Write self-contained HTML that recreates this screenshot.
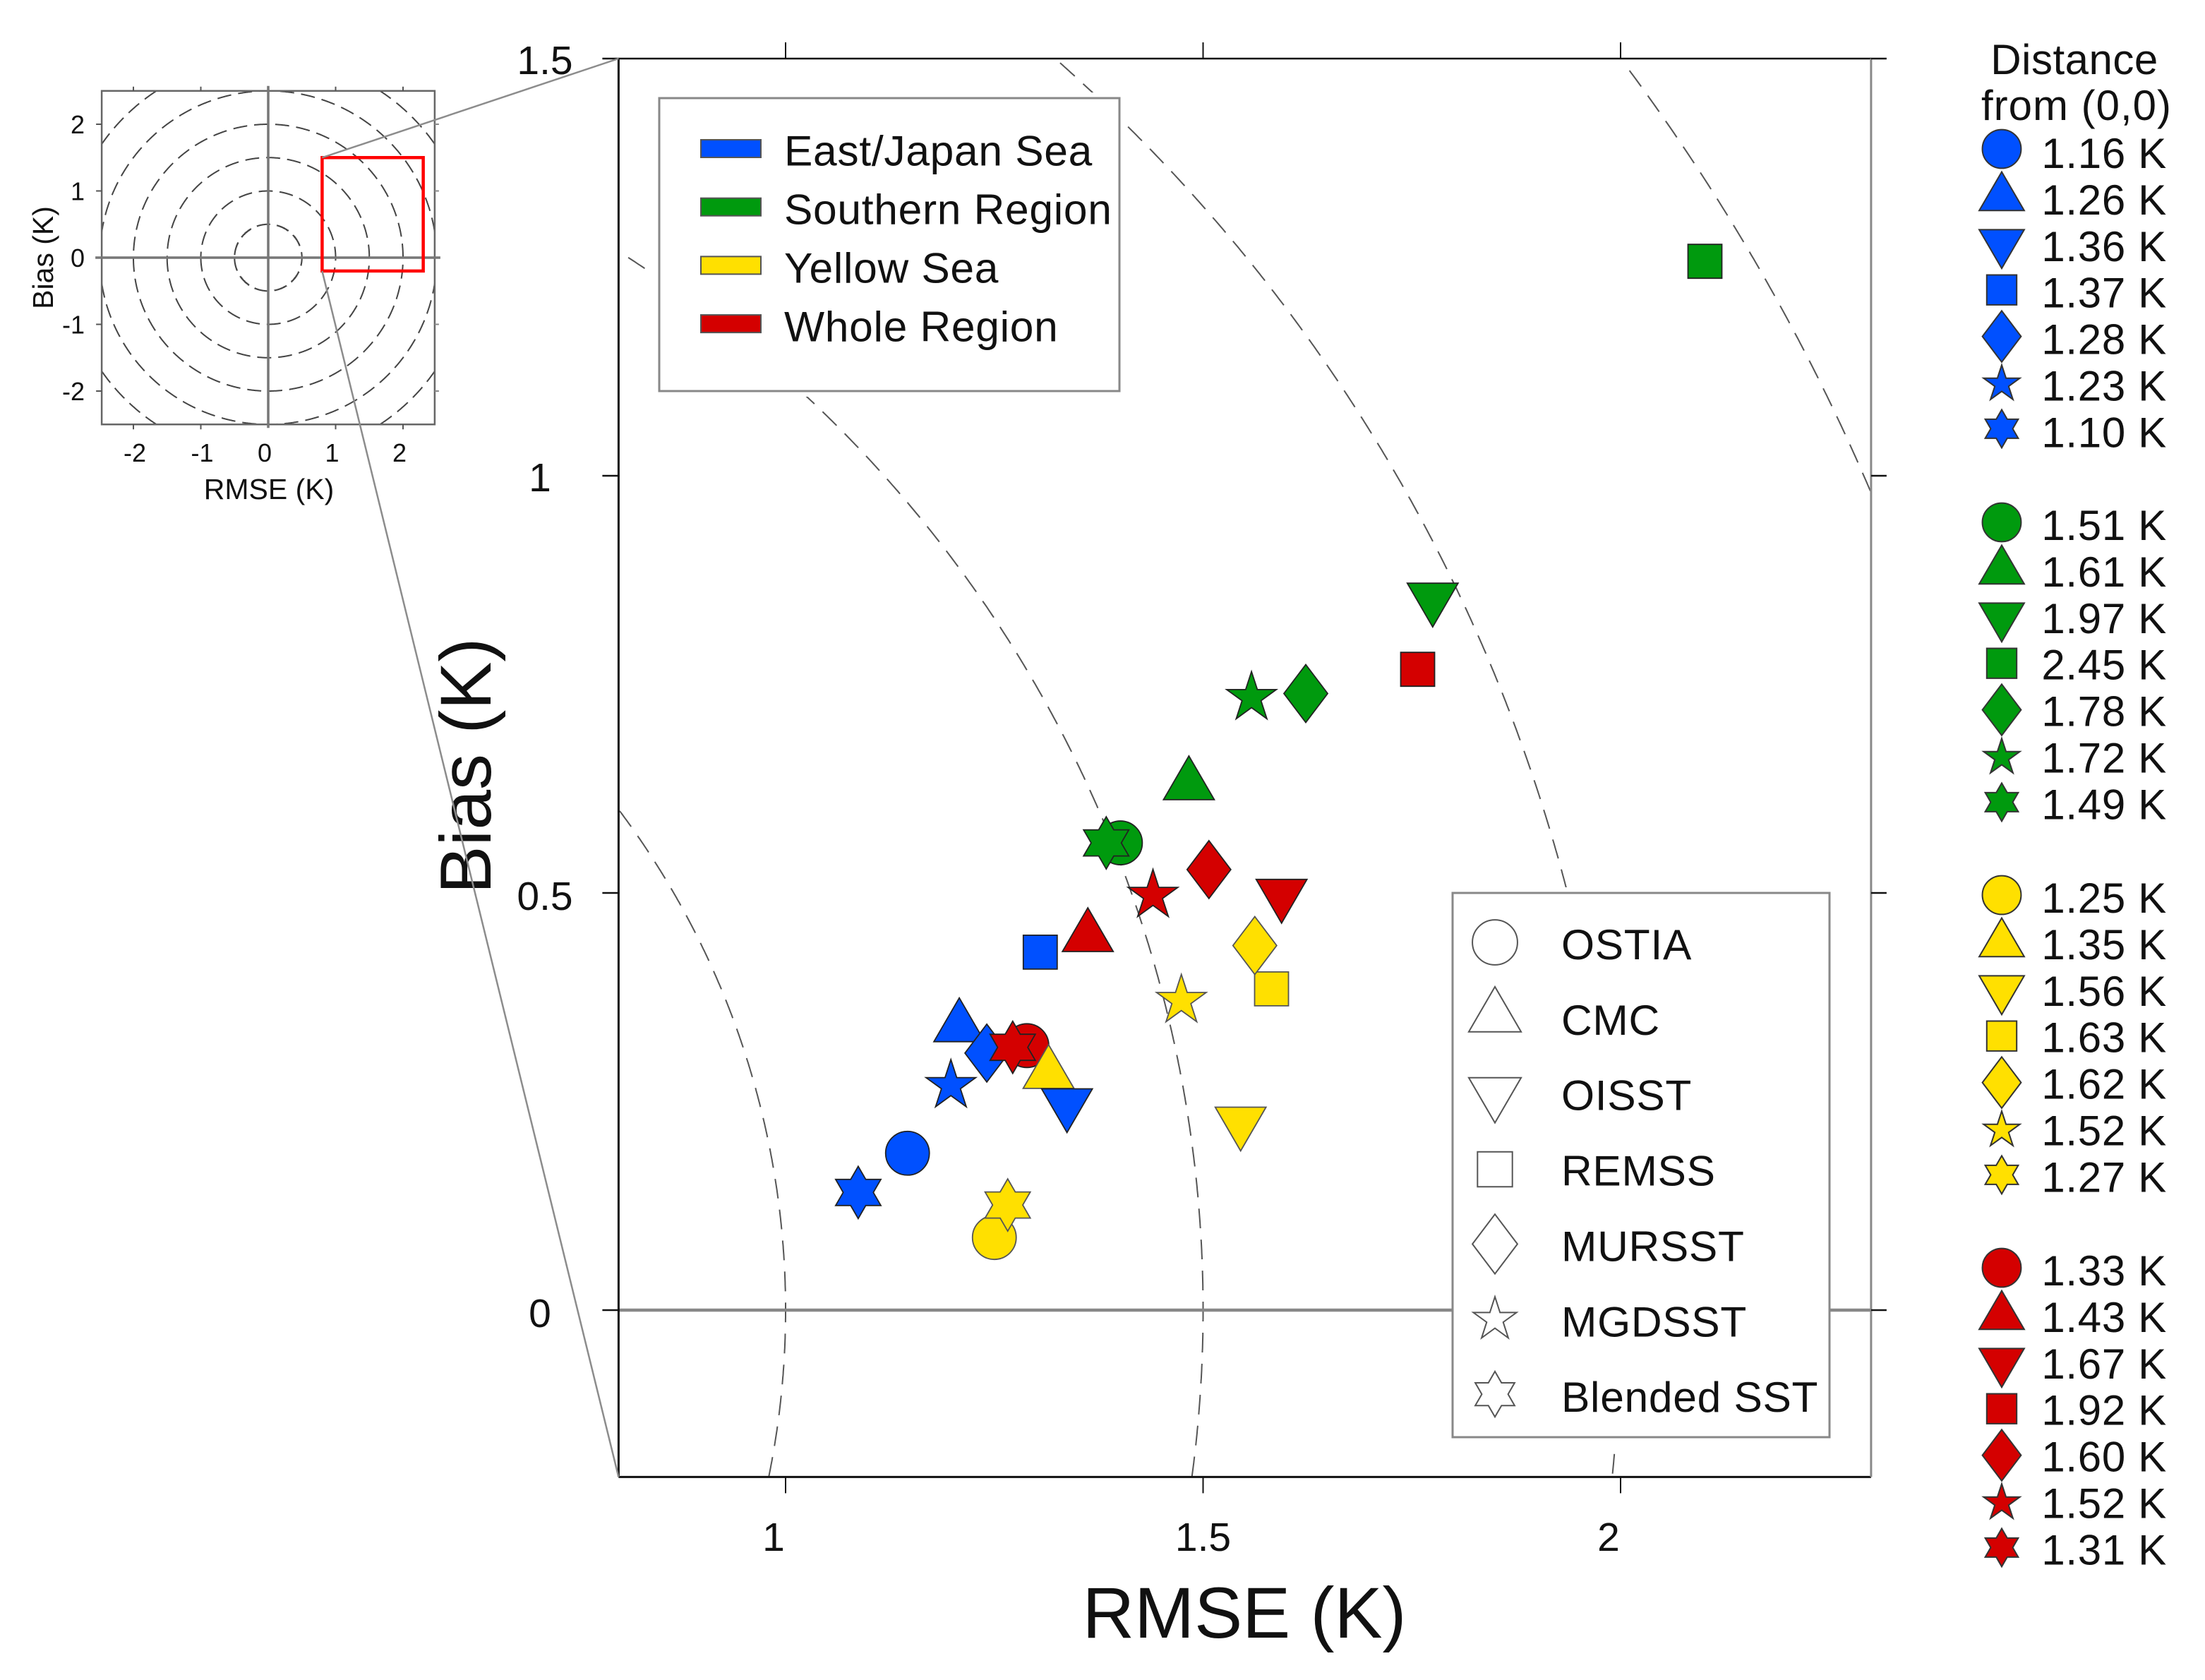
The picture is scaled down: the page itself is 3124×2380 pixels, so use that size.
<!DOCTYPE html>
<html lang="en">
<head>
<meta charset="utf-8">
<title>RMSE and Bias of SST products</title>
<style>
  html, body { margin: 0; padding: 0; background: #fff; width: 3124px; height: 2380px; overflow: hidden; }
  svg { display: block; overflow: hidden; }
  text { font-family: "Liberation Sans", Arial, sans-serif; fill: #111; }
</style>
</head>
<body>
<svg id="chart" xmlns="http://www.w3.org/2000/svg" width="3124" height="2380" viewBox="0 0 3124 2380">
  <rect x="0" y="0" width="3124" height="2380" fill="#fff"/>

  <g id="inset"></g>
  <g id="main"></g>

  <g id="region-legend">
    <rect x="926" y="131" width="668" height="431" fill="#fff"/>
    <rect x="934" y="139" width="652" height="415" fill="#fff" stroke="#888" stroke-width="3"/>
  </g>
  <g id="product-legend">
    <rect x="2058" y="1265" width="534" height="771" fill="#fff" stroke="#888" stroke-width="3"/>
  </g>
  <g id="markers"></g>
  <g id="distance-legend">
    <text x="2939" y="105" font-size="60" text-anchor="middle" letter-spacing="0.5">Distance</text>
    <text x="2942" y="170" font-size="60" text-anchor="middle" letter-spacing="1">from (0,0)</text>
  </g>

  <text x="1763" y="2320" font-size="102" text-anchor="middle">RMSE (K)</text>
  <text transform="translate(695 1085) rotate(-90)" font-size="102" text-anchor="middle">Bias (K)</text>
  <text x="381" y="707" font-size="41" text-anchor="middle">RMSE (K)</text>
  <text transform="translate(75 365) rotate(-90)" font-size="41" text-anchor="middle">Bias (K)</text>
  <g id="connectors"></g>
</svg>

<script>
// ---- Data ----
const products = ['OSTIA', 'CMC', 'OISST', 'REMSS', 'MURSST', 'MGDSST', 'Blended SST'];
const regions = ['East/Japan Sea', 'Southern Region', 'Yellow Sea', 'Whole Region'];

const eastJapanRmse = [1.146, 1.208, 1.337, 1.305, 1.241, 1.198, 1.087];
const eastJapanBias = [0.188, 0.348, 0.239, 0.429, 0.308, 0.272, 0.141];
const southernRmse = [1.401, 1.483, 1.775, 2.101, 1.623, 1.558, 1.384];
const southernBias = [0.560, 0.638, 0.845, 1.257, 0.739, 0.737, 0.560];
const yellowRmse = [1.250, 1.315, 1.545, 1.582, 1.562, 1.474, 1.266];
const yellowBias = [0.087, 0.292, 0.217, 0.385, 0.437, 0.374, 0.126];
const wholeRmse = [1.289, 1.362, 1.594, 1.757, 1.507, 1.440, 1.272];
const wholeBias = [0.317, 0.456, 0.490, 0.768, 0.528, 0.500, 0.315];

const eastJapanDistance = ['1.16 K', '1.26 K', '1.36 K', '1.37 K', '1.28 K', '1.23 K', '1.10 K'];
const southernDistance = ['1.51 K', '1.61 K', '1.97 K', '2.45 K', '1.78 K', '1.72 K', '1.49 K'];
const yellowDistance = ['1.25 K', '1.35 K', '1.56 K', '1.63 K', '1.62 K', '1.52 K', '1.27 K'];
const wholeDistance = ['1.33 K', '1.43 K', '1.67 K', '1.92 K', '1.60 K', '1.52 K', '1.31 K'];

const mainXTicks = [1, 1.5, 2];
const mainYTicks = [0, 0.5, 1, 1.5];
const mainRadii = [1, 1.5, 2, 2.5];
const insetTicks = [-2, -1, 0, 1, 2];
const insetRadii = [0.5, 1, 1.5, 2, 2.5, 3];

// ---- Setup ----
const NS = 'http://www.w3.org/2000/svg';
const regionColors = ['#0050ff', '#009a0e', '#ffe000', '#d40000'];
const regionKeys = ['east-japan', 'southern', 'yellow', 'whole'];
const regionRmse = [eastJapanRmse, southernRmse, yellowRmse, wholeRmse];
const regionBias = [eastJapanBias, southernBias, yellowBias, wholeBias];
const regionDistance = [eastJapanDistance, southernDistance, yellowDistance, wholeDistance];
const productShapes = ['circle', 'triUp', 'triDown', 'square', 'diamond', 'star5', 'star6'];

function x(v) { return 1113 + (v - 1) * 1183; }
function y(v) { return 1856 - v * 1182; }
function ix(v) { return 380 + v * 95.5; }
function iy(v) { return 365 - v * 94.5; }

const xMin = 0.8, xMax = 2.3, yMin = -0.2, yMax = 1.5;
const ixLim = 2.47, iyLim = 2.5;

function mk(tag, attrs, parent) {
  const e = document.createElementNS(NS, tag);
  for (const k in attrs) e.setAttribute(k, attrs[k]);
  parent.appendChild(e);
  return e;
}

function shapePoints(shape, cx, cy, s) {
  const pts = [];
  if (shape === 'triUp') {
    pts.push([cx, cy - 31 * s], [cx + 36 * s, cy + 31 * s], [cx - 36 * s, cy + 31 * s]);
  } else if (shape === 'triDown') {
    pts.push([cx - 36 * s, cy - 31 * s], [cx + 36 * s, cy - 31 * s], [cx, cy + 31 * s]);
  } else if (shape === 'square') {
    pts.push([cx - 24 * s, cy - 24 * s], [cx + 24 * s, cy - 24 * s], [cx + 24 * s, cy + 24 * s], [cx - 24 * s, cy + 24 * s]);
  } else if (shape === 'diamond') {
    pts.push([cx, cy - 41 * s], [cx + 31 * s, cy], [cx, cy + 41 * s], [cx - 31 * s, cy]);
  } else if (shape === 'star5') {
    const R = 37 * s, r = R * 0.382, dy = R * 0.095;
    for (let i = 0; i < 10; i++) {
      const a = -Math.PI / 2 + i * Math.PI / 5, q = i % 2 ? r : R;
      pts.push([cx + q * Math.cos(a), cy + dy + q * Math.sin(a)]);
    }
  } else if (shape === 'star6') {
    const R = 37 * s, r = R / Math.sqrt(3);
    for (let i = 0; i < 12; i++) {
      const a = -Math.PI / 2 + i * Math.PI / 6, q = i % 2 ? r : R;
      pts.push([cx + q * Math.cos(a), cy + q * Math.sin(a)]);
    }
  }
  return pts.map(p => p[0].toFixed(1) + ',' + p[1].toFixed(1)).join(' ');
}

function drawShape(shape, cx, cy, s, fill, stroke, sw, parent) {
  if (shape === 'circle') {
    return mk('circle', { cx: cx, cy: cy, r: 31 * s, fill: fill, stroke: stroke, 'stroke-width': sw }, parent);
  }
  return mk('polygon', { points: shapePoints(shape, cx, cy, s), fill: fill, stroke: stroke, 'stroke-width': sw, 'stroke-linejoin': 'miter' }, parent);
}

// Pieces of the circle of radius r that lie inside the given data window
function arcSegments(r, fx, fy, xlo, xhi, ylo, yhi) {
  const segs = [];
  let cur = null;
  for (let i = 0; i <= 2880; i++) {
    const a = -Math.PI + i / 2880 * 2 * Math.PI;
    const dx = r * Math.cos(a), dy = r * Math.sin(a);
    if (dx >= xlo && dx <= xhi && dy >= ylo && dy <= yhi) {
      if (!cur) { cur = []; segs.push(cur); }
      cur.push(fx(dx).toFixed(1) + ',' + fy(dy).toFixed(1));
    } else {
      cur = null;
    }
  }
  return segs.map(s => s.join(' '));
}

// ---- Inset ----
const inset = document.getElementById('inset');
insetRadii.forEach(function (r) {
  arcSegments(r, ix, iy, -ixLim, ixLim, -iyLim, iyLim).forEach(function (pts) {
    const arc = mk('polyline', { points: pts, fill: 'none', stroke: '#444', 'stroke-width': 2, 'stroke-dasharray': '20 10' }, inset);
    
    
  });
});
const insetBox = mk('rect', { x: ix(-ixLim), y: iy(iyLim), width: ix(ixLim) - ix(-ixLim), height: iy(-iyLim) - iy(iyLim), fill: 'none', stroke: '#666', 'stroke-width': 2.5 }, inset);


const insetZeroH = mk('line', { x1: ix(-ixLim) - 9, x2: ix(ixLim) + 8, y1: iy(0), y2: iy(0), stroke: '#777', 'stroke-width': 3.5 }, inset);


const insetZeroV = mk('line', { x1: ix(0), x2: ix(0), y1: iy(iyLim) - 7, y2: iy(-iyLim) + 5, stroke: '#777', 'stroke-width': 3.5 }, inset);


insetTicks.forEach(function (v) {
  if (v !== 0) {
    const t1 = mk('line', { x1: ix(v), x2: ix(v), y1: iy(iyLim), y2: iy(iyLim) - 6, stroke: '#555', 'stroke-width': 2 }, inset);
    
    
    const t2 = mk('line', { x1: ix(v), x2: ix(v), y1: iy(-iyLim), y2: iy(-iyLim) + 7, stroke: '#555', 'stroke-width': 2 }, inset);
    
    
    const t3 = mk('line', { x1: ix(-ixLim) - 8, x2: ix(-ixLim), y1: iy(v), y2: iy(v), stroke: '#555', 'stroke-width': 2 }, inset);
    
    
    const t4 = mk('line', { x1: ix(ixLim), x2: ix(ixLim) + 6, y1: iy(v), y2: iy(v), stroke: '#888', 'stroke-width': 2 }, inset);
    
    
  }
  const lx = mk('text', { x: ix(v) + (v < 0 ? 2 : -5), y: 654, 'font-size': 36, 'text-anchor': 'middle' }, inset);
  lx.textContent = String(v);
  
  
  const ly = mk('text', { x: 120, y: iy(v) + 13, 'font-size': 36, 'text-anchor': 'end' }, inset);
  ly.textContent = String(v);
  
  
});
const zoomRect = mk('rect', { x: ix(xMin), y: iy(yMax), width: ix(xMax) - ix(xMin), height: iy(yMin) - iy(yMax), fill: 'none', stroke: '#f00', 'stroke-width': 4.5 }, inset);



// ---- Main plot ----
const main = document.getElementById('main');
mainRadii.forEach(function (r) {
  arcSegments(r, x, y, xMin, xMax, yMin, yMax).forEach(function (pts) {
    const arc = mk('polyline', { points: pts, fill: 'none', stroke: '#555', 'stroke-width': 2, 'stroke-dasharray': '28 16' }, main);
    
    
  });
});
// White halo under the product legend, below the zero line
const productHalo = mk('rect', { x: 2050, y: 1257, width: 550, height: 787, fill: '#fff' }, main);


const zeroLine = mk('line', { x1: x(xMin), x2: x(xMax), y1: y(0), y2: y(0), stroke: '#888', 'stroke-width': 4.5 }, main);



const axisTop = mk('line', { x1: x(xMin), x2: x(xMax), y1: y(yMax), y2: y(yMax), stroke: '#111', 'stroke-width': 2.5 }, main);


const axisBottom = mk('line', { x1: x(xMin), x2: x(xMax), y1: y(yMin), y2: y(yMin), stroke: '#111', 'stroke-width': 3 }, main);


const axisLeft = mk('line', { x1: x(xMin), x2: x(xMin), y1: y(yMax), y2: y(yMin), stroke: '#111', 'stroke-width': 3 }, main);


const axisRight = mk('line', { x1: x(xMax), x2: x(xMax), y1: y(yMax), y2: y(yMin), stroke: '#888', 'stroke-width': 3 }, main);



mainXTicks.forEach(function (v) {
  const t1 = mk('line', { x1: x(v), x2: x(v), y1: y(yMax), y2: y(yMax) - 23, stroke: '#111', 'stroke-width': 2 }, main);
  
  
  const t2 = mk('line', { x1: x(v), x2: x(v), y1: y(yMin), y2: y(yMin) + 23, stroke: '#111', 'stroke-width': 2 }, main);
  
  
  const lab = mk('text', { x: x(v) + (Number.isInteger(v) ? -17 : 0), y: 2197, 'font-size': 57, 'text-anchor': 'middle' }, main);
  lab.textContent = String(v);
  
  
});
mainYTicks.forEach(function (v) {
  const t1 = mk('line', { x1: x(xMin) - 23, x2: x(xMin), y1: y(v), y2: y(v), stroke: '#111', 'stroke-width': 2.5 }, main);
  
  
  const t2 = mk('line', { x1: x(xMax), x2: x(xMax) + 22, y1: y(v), y2: y(v), stroke: '#111', 'stroke-width': 2.5 }, main);
  
  
  const lab = mk('text', { x: Number.isInteger(v) ? 765 : 772, y: y(v) + (v >= 1 ? 22 : 24), 'font-size': 57, 'text-anchor': 'middle' }, main);
  lab.textContent = String(v);
  
  
});

// ---- Region legend ----
const regionLegend = document.getElementById('region-legend');
regions.forEach(function (name, i) {
  const top = 198 + i * 82.7;
  const sw = mk('rect', { x: 993, y: top, width: 85, height: 25, fill: regionColors[i], stroke: '#555', 'stroke-width': 2 }, regionLegend);
  
  
  const t = mk('text', { x: 1111, y: 234.5 + i * 83, 'font-size': 60.5, 'letter-spacing': 0.7 }, regionLegend);
  t.textContent = name;
  
  
});

// ---- Product legend ----
const productLegend = document.getElementById('product-legend');
const productOffsets = { circle: -24, triUp: -36, triDown: -14, square: -23, diamond: -24, star5: -27, star6: -25 };
products.forEach(function (name, i) {
  const base = 1359 + i * 106.85;
  const shape = productShapes[i];
  const s = (shape === 'star5' || shape === 'star6') ? 0.87 : 1.03;
  const m = drawShape(shape, 2118, base + productOffsets[shape], s, 'none', '#555', 2, productLegend);
  
  
  const t = mk('text', { x: 2212, y: base, 'font-size': 60.5, 'letter-spacing': 0.7 }, productLegend);
  t.textContent = name;
  
  
});

// ---- Scatter markers: one pass per product, regions in legend order ----
const markersGroup = document.getElementById('markers');
products.forEach(function (name, p) {
  regions.forEach(function (region, r) {
    const stroke = r === 2 ? '#555' : '#222';
    const m = drawShape(productShapes[p], x(regionRmse[r][p]), y(regionBias[r][p]), 1, regionColors[r], stroke, 1.8, markersGroup);
    
    
  });
});

// ---- Distance legend ----
const distanceLegend = document.getElementById('distance-legend');
const distanceBases = [238, 767, 1295, 1823];
const distanceOffsets = { circle: -27, triUp: -33, triDown: -17, square: -25, diamond: -25, star5: -26, star6: -26 };
regions.forEach(function (region, r) {
  regionDistance[r].forEach(function (label, i) {
    const base = distanceBases[r] + i * 65.9;
    const shape = productShapes[i];
    const s = (shape === 'star5' || shape === 'star6') ? 0.73 : 0.885;
    const m = drawShape(shape, 2836, base + distanceOffsets[shape], s, regionColors[r], '#333', 2, distanceLegend);
    
    
    const t = mk('text', { x: 3070, y: base - (r === 0 ? 0 : 2), 'font-size': 60, 'text-anchor': 'end', 'letter-spacing': 0.7 }, distanceLegend);
    t.textContent = label;
    
    
  });
});

// ---- Connectors from inset rectangle to main plot corners ----
const connectors = document.getElementById('connectors');
const c1 = mk('line', { x1: ix(xMin), y1: iy(yMax), x2: x(xMin), y2: y(yMax), stroke: '#8c8c8c', 'stroke-width': 2.5 }, connectors);


const c2 = mk('line', { x1: ix(xMin), y1: iy(yMin), x2: x(xMin), y2: y(yMin), stroke: '#8c8c8c', 'stroke-width': 2.5 }, connectors);


</script>
</body>
</html>
